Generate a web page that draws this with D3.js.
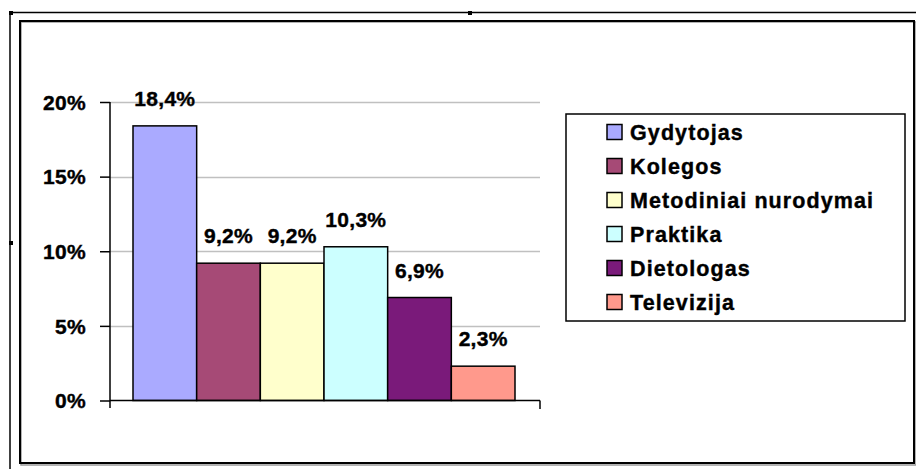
<!DOCTYPE html>
<html>
<head>
<meta charset="utf-8">
<script src="https://cdn.jsdelivr.net/npm/d3@7"></script>
<style>
  html, body { margin: 0; padding: 0; background: #fff; }
  svg { display: block; }
  text { font-family: "Liberation Sans", Arial, sans-serif; font-weight: bold; fill: #000; stroke: #000; stroke-width: 0.4px; }
</style>
</head>
<body>
<svg id="chart" width="916" height="469"></svg>
<script>
const categories = ["Gydytojas", "Kolegos", "Metodiniai nurodymai", "Praktika", "Dietologas", "Televizija"];
const values = [18.4, 9.2, 9.2, 10.3, 6.9, 2.3];
const valueLabels = ["18,4%", "9,2%", "9,2%", "10,3%", "6,9%", "2,3%"];
const colors = ["#aaaaff", "#a64a76", "#ffffcc", "#ccffff", "#7a1a7a", "#ff998c"];
const yTicks = [0, 5, 10, 15, 20];
const yTickLabels = ["0%", "5%", "10%", "15%", "20%"];

const svg = d3.select("#chart");

// outer frame (selection-like border)
svg.append("line").attr("x1", 10).attr("x2", 916).attr("y1", 12.5).attr("y2", 12.5).attr("stroke", "#000").attr("stroke-width", 1.5);
svg.append("line").attr("x1", 10).attr("x2", 10).attr("y1", 12).attr("y2", 469).attr("stroke", "#000").attr("stroke-width", 1.5);
[[9, 11], [468, 11], [9, 241]].forEach(([x, y]) => {
  svg.append("rect").attr("x", x).attr("y", y).attr("width", 4).attr("height", 4).attr("fill", "#000");
});

// inner chart frame with shadow
svg.append("rect").attr("x", 21).attr("y", 22).attr("width", 895).attr("height", 443)
  .attr("fill", "none").attr("stroke", "#999").attr("stroke-width", 1.5);
svg.append("rect").attr("x", 20).attr("y", 21).attr("width", 894).attr("height", 442)
  .attr("fill", "none").attr("stroke", "#000").attr("stroke-width", 2);

// plot area
const x0 = 110, x1 = 540, yBottom = 400.5, yTop = 102;
const y = d3.scaleLinear().domain([0, 20]).range([yBottom, yTop]);
const x = d3.scaleBand().domain(categories).range([133, 515]).paddingInner(0).paddingOuter(0);

// gridlines
svg.append("g").selectAll("line").data(yTicks.filter(d => d > 0)).join("line")
  .attr("x1", x0).attr("x2", x1)
  .attr("y1", d => Math.round(y(d)) + 0.5).attr("y2", d => Math.round(y(d)) + 0.5)
  .attr("stroke", "#c0c0c0").attr("stroke-width", 1.5);

// bars
svg.append("g").selectAll("rect").data(categories).join("rect")
  .attr("x", d => x(d))
  .attr("y", (d, i) => y(values[i]))
  .attr("width", x.bandwidth())
  .attr("height", (d, i) => yBottom - y(values[i]))
  .attr("fill", (d, i) => colors[i])
  .attr("stroke", "#000").attr("stroke-width", 1.5);

// value labels
svg.append("g").selectAll("text").data(categories).join("text")
  .attr("x", d => x(d) + x.bandwidth() / 2)
  .attr("y", (d, i) => y(values[i]) - 20)
  .attr("text-anchor", "middle")
  .style("font-size", "21px").style("letter-spacing", "0.3px")
  .text((d, i) => valueLabels[i]);

// y axis
const yAxis = d3.axisLeft(y).tickValues(yTicks).tickSize(10).tickPadding(14)
  .tickFormat((d, i) => yTickLabels[i]);
const gy = svg.append("g").attr("transform", `translate(${x0},0)`).call(yAxis);
gy.select(".domain").remove();
gy.selectAll(".tick line").attr("stroke", "#000").attr("stroke-width", 1.5);
gy.selectAll(".tick text").style("font-size", "21px").style("letter-spacing", "0.3px")
  .attr("font-family", null).attr("fill", null).attr("dy", "0.35em");
svg.append("line").attr("x1", x0).attr("x2", x0).attr("y1", yTop).attr("y2", 408)
  .attr("stroke", "#000").attr("stroke-width", 1.5);

// x axis
svg.append("line").attr("x1", x0).attr("x2", x1).attr("y1", yBottom).attr("y2", yBottom)
  .attr("stroke", "#000").attr("stroke-width", 1.5);
svg.append("line").attr("x1", x1).attr("x2", x1).attr("y1", yBottom).attr("y2", 409)
  .attr("stroke", "#000").attr("stroke-width", 1.5);

// legend
const lg = svg.append("g");
lg.append("rect").attr("x", 566).attr("y", 114).attr("width", 339).attr("height", 207)
  .attr("fill", "#fff").attr("stroke", "#000").attr("stroke-width", 1.5);
const rowY = d3.scalePoint().domain(categories).range([132, 302]);
const items = lg.selectAll("g.item").data(categories).join("g").attr("class", "item")
  .attr("transform", d => `translate(0,${rowY(d)})`);
items.append("rect").attr("x", 607).attr("y", -7.5).attr("width", 15).attr("height", 15)
  .attr("fill", (d, i) => colors[i]).attr("stroke", "#000").attr("stroke-width", 1.5);
items.append("text").attr("x", 630).attr("y", 7.5)
  .style("font-size", "21.5px").style("letter-spacing", "1.1px")
  .text(d => d);
</script>
</body>
</html>
